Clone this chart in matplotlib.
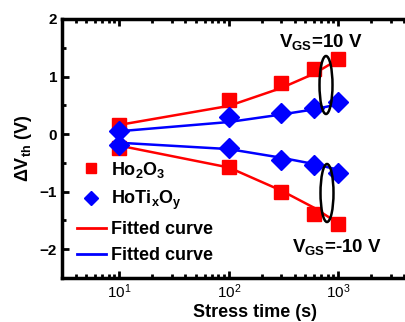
import matplotlib
matplotlib.use("Agg")
import matplotlib.pyplot as plt
from matplotlib.patches import Ellipse
from matplotlib.lines import Line2D
from matplotlib.ticker import FixedLocator, MultipleLocator

plt.rcParams['font.family'] = ['Liberation Sans', 'DejaVu Sans']
plt.rcParams['mathtext.fontset'] = 'custom'
plt.rcParams['mathtext.rm'] = 'Liberation Sans:bold'
plt.rcParams['mathtext.it'] = 'Liberation Sans:bold'
plt.rcParams['mathtext.bf'] = 'Liberation Sans:bold'

# datos
t = [10, 100, 300, 600, 1000]
ho2o3_pos = [0.16, 0.59, 0.89, 1.13, 1.30]
ho2o3_neg = [-0.24, -0.57, -1.01, -1.38, -1.57]
hotio_pos = [0.05, 0.30, 0.37, 0.45, 0.56]
hotio_neg = [-0.19, -0.24, -0.45, -0.53, -0.67]

# curvas ajustadas
fit_ho2o3_pos = [0.16, 0.49, 0.80, 1.05, 1.30]
fit_ho2o3_neg = [-0.20, -0.58, -0.98, -1.28, -1.55]
fit_hotio_pos = [0.05, 0.21, 0.34, 0.43, 0.52]
fit_hotio_neg = [-0.15, -0.26, -0.41, -0.52, -0.62]

fig = plt.figure(figsize=(4.05, 3.22), dpi=100)
ax = fig.add_axes([62/405, 1-278/322, (448-62)/405, (278-19)/322])

red = '#ff0000'
blue = '#0000ff'

ax.plot(t, fit_ho2o3_pos, color=red, lw=1.8, zorder=2)
ax.plot(t, fit_ho2o3_neg, color=red, lw=1.8, zorder=2)
ax.plot(t, fit_hotio_pos, color=blue, lw=1.8, zorder=2)
ax.plot(t, fit_hotio_neg, color=blue, lw=1.8, zorder=2)

ax.plot(t, ho2o3_pos, 's', color=red, ms=10, zorder=3)
ax.plot(t, ho2o3_neg, 's', color=red, ms=10, zorder=3)
ax.plot(t, hotio_pos, 'D', color=blue, ms=10, zorder=4)
ax.plot(t, hotio_neg, 'D', color=blue, ms=10, zorder=4)

ax.set_xscale('log')
ax.set_xlim(3, 10000)
ax.set_ylim(-2.5, 2)
ax.xaxis.set_major_locator(FixedLocator([10, 100, 1000]))
ax.yaxis.set_major_locator(MultipleLocator(1))
ax.yaxis.set_minor_locator(MultipleLocator(0.5))
ax.tick_params(which='both', direction='in', width=2, top=True, right=True)
ax.tick_params(which='major', length=5, labelsize=11)
ax.tick_params(which='minor', length=3)
for lbl in ax.get_yticklabels():
    lbl.set_fontweight('bold')
for s in ax.spines.values():
    s.set_linewidth(2.5)

ax.set_xlabel('Stress time (s)', fontsize=13, fontweight='bold', labelpad=2)
ax.set_ylabel(r'$\Delta$V$_{th}$ (V)', fontsize=13, fontweight='bold', labelpad=4)

fig.text(279/405, 1-42/322, r'V$_{GS}$=10 V', fontsize=13.5, fontweight='bold', va='center')
fig.text(292/405, 1-247/322, r'V$_{GS}$=-10 V', fontsize=13.5, fontweight='bold', va='center')

fig.add_artist(Ellipse((326/405, 1-85/322), 13/405, 58/322, transform=fig.transFigure,
                       fill=False, ec='black', lw=1.8))
fig.add_artist(Ellipse((327/405, 1-193/322), 13/405, 58/322, transform=fig.transFigure,
                       fill=False, ec='black', lw=1.8))

handles = [
    Line2D([], [], ls='none', marker='s', color=red, ms=7),
    Line2D([], [], ls='none', marker='D', color=blue, ms=7),
    Line2D([], [], color=red, lw=2),
    Line2D([], [], color=blue, lw=2),
]
labels = [r'Ho$_2$O$_3$', r'HoTi$_x$O$_y$', 'Fitted curve', 'Fitted curve']
ax.legend(handles, labels, loc='upper left', bbox_to_anchor=(0.02, 0.485), frameon=False,
          prop={'size': 13, 'weight': 'bold'}, handlelength=1.6, handletextpad=0.3,
          labelspacing=0.5, borderaxespad=0)

fig.savefig('out.png', dpi=100)
